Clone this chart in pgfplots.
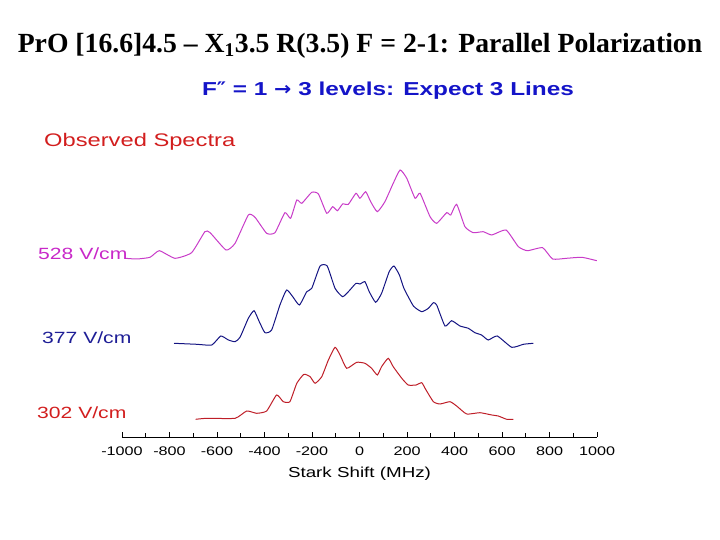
\documentclass[border=0pt]{standalone}
\usepackage{pgfplots}
\pgfplotsset{compat=1.18}
\usepackage{fontspec}
\setmainfont{Liberation Sans}
\newfontfamily\titlefont{Liberation Serif}
\newfontfamily\wsans[FakeStretch=1.3]{Liberation Sans}
\newfontfamily\symfont[FakeStretch=1.1]{DejaVu Sans}
\definecolor{cmag}{RGB}{200,60,200}
\definecolor{cmaglab}{RGB}{200,40,200}
\definecolor{cnavy}{RGB}{20,20,130}
\definecolor{cnavylab}{RGB}{30,30,150}
\definecolor{cred}{RGB}{190,30,40}
\definecolor{credlab}{RGB}{210,30,30}
\definecolor{csub}{RGB}{20,20,200}
\begin{document}
\begin{tikzpicture}[x=1bp,y=1bp]
% picture frame: pixel (px,py) -> (px-122, 437-py)
\useasboundingbox (-122,437) rectangle (598,-103);
\begin{axis}[
  scale only axis, width=475bp, height=280bp,
  xmin=-1000, xmax=1000, ymin=0, ymax=280,
  axis x line=bottom, axis y line=none,
  x axis line style={-, line width=0.8bp},
  xtick={-1000,-800,...,1000},
  minor x tick num=1,
  tick align=inside,
  major tick length=5bp, minor tick length=3.5bp,
  tick style={line width=0.8bp, black},
  xticklabel style={font=\wsans\fontsize{12.5}{12.5}\selectfont, yshift=-6bp},
  /pgf/number format/assume math mode=true,
  /pgf/number format/1000 sep={},
  xlabel={Stark Shift (MHz)},
  xlabel style={font=\wsans\fontsize{14.5}{14.5}\selectfont, yshift=-5bp},
  clip=false,
]
% 528 V/cm
\addplot[cmag, line width=1bp, smooth, tension=0.3] coordinates {
(-987,178.7) (-938,178) (-882,179.7) (-843,186.3) (-777,178.7) (-707,184.3)
(-651,205.3) (-629,204.3) (-562,187) (-524,193.7) (-468,222) (-440,219.7)
(-391,203.7) (-356,204.3) (-314,224.3) (-290,218.7) (-264,237) (-243,233.7)
(-201,244.7) (-173,243) (-138,223.7) (-113,230.3) (-93,226.3) (-71,233)
(-47,232.7) (-15,243.7) (2,238.7) (26,245.3) (47,235.3) (75,225.3)
(107,235.3) (142,253.7) (171,267) (199,258.7) (234,238.7) (255,243.7)
(297,220.3) (325,213.7) (367,224.3) (384,222) (409,232.7) (444,210.3)
(479,204.3) (521,205.3) (557,202) (617,207) (669,190.3) (707,186.3)
(771,189.3) (813,178) (872,178.7) (936,179.7) (999,176.3)
};
% 377 V/cm
\addplot[cnavy, line width=1bp, smooth, tension=0.3] coordinates {
(-781,93.7) (-685,92.7) (-622,92) (-584,101) (-552,97) (-524,95.3)
(-503,99.7) (-468,118.7) (-444,126.3) (-422,115.3) (-398,104.3) (-370,107)
(-335,132) (-307,147) (-281,140.3) (-253,132) (-222,145.3) (-201,148.7)
(-166,171) (-136,171) (-103,148.7) (-71,140.3) (-43,146.3) (-15,153.7)
(2,153) (23,155.3) (41,145.3) (68,134.7) (93,143.7) (125,165.3)
(145,171) (168,162) (187,148.7) (227,131) (262,125.3) (290,128.7)
(311,134.3) (325,132) (360,111) (388,116.3) (423,111) (458,108.7)
(486,104.3) (514,102) (542,97) (580,101) (641,89.7) (690,92.7) (732,93.7)
};
% 302 V/cm
\addplot[cred, line width=1bp, smooth, tension=0.3] coordinates {
(-690,17.7) (-643,18.7) (-524,18.7) (-475,26) (-433,23.7) (-391,26)
(-349,42) (-321,35.3) (-293,35.3) (-264,53.7) (-234,62.7) (-208,60.3)
(-187,53.7) (-159,60.3) (-131,77) (-103,89.7) (-82,82) (-54,68.7)
(-12,74.7) (23,73.7) (51,68.7) (75,62) (93,70.3) (121,78.7)
(142,70.3) (178,58.7) (205,52) (238,52) (262,54.3) (276,48.7)
(311,35.3) (339,33) (381,35.3) (409,31) (451,23) (507,24.3)
(557,22) (584,21) (620,17.7) (648,17.7)
};
\end{axis}
\node[font=\titlefont\bfseries\fontsize{27.8}{27.8}\selectfont] at (238,391) {PrO [16.6]4.5 – X\textsubscript{1}3.5 R(3.5) F = 2-1: Parallel Polarization};
\node[font=\wsans\bfseries\fontsize{18.8}{18.8}\selectfont, text=csub] at (266,346) {F{\symfont″} = 1 {\symfont→} 3 levels: Expect 3 Lines};
\node[font=\wsans\fontsize{18.3}{18.3}\selectfont, text=credlab, anchor=west, inner sep=0] at (-78,295) {Observed Spectra};
\node[font=\wsans\fontsize{16.3}{16.3}\selectfont, text=cmaglab, anchor=west, inner sep=0] at (-84,183) {528 V/cm};
\node[font=\wsans\fontsize{16.3}{16.3}\selectfont, text=cnavylab, anchor=west, inner sep=0] at (-80,99) {377 V/cm};
\node[font=\wsans\fontsize{16.3}{16.3}\selectfont, text=credlab, anchor=west, inner sep=0] at (-85,24) {302 V/cm};
\end{tikzpicture}
\end{document}
